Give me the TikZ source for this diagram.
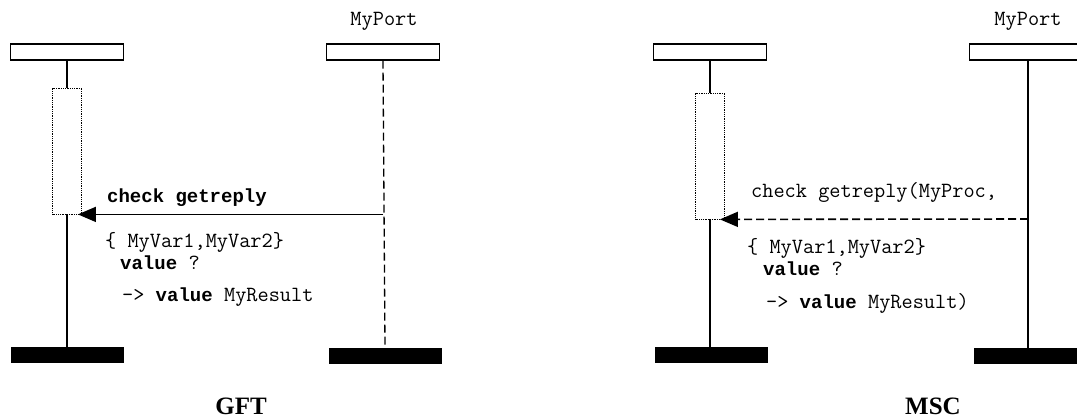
\documentclass[tikz,border=0pt]{standalone}
\usepackage{fontspec}
\setmainfont{Liberation Serif}
\setmonofont{Latin Modern Mono}[
  BoldFont={Liberation Mono Bold},
  BoldFeatures={Scale=0.875}
]
\usetikzlibrary{arrows.meta}
\newcommand{\msgfont}{\ttfamily\fontsize{21.7}{24}\selectfont}
\newcommand{\titlefont}{\rmfamily\bfseries\fontsize{25}{28}\selectfont}
\tikzset{
  insthead/.style={
    draw=black,
    line width=1.4pt,
    minimum width=113pt,
    minimum height=16pt,
    inner sep=0pt
  },
  instend/.style={
    fill=black,
    minimum width=113pt,
    minimum height=16pt,
    inner sep=0pt
  },
  actbox/.style={
    draw=black,
    densely dotted,
    line width=0.8pt,
    minimum width=29pt,
    minimum height=126pt,
    inner sep=0pt
  },
  lifeline/.style={
    draw=black,
    line width=1.3pt
  },
  msgarrow/.style={
    draw=black,
    line width=1.6pt,
    -{Triangle[length=18pt,width=15pt]}
  },
  msgtext/.style={
    font=\msgfont,
    anchor=west,
    inner sep=0pt
  },
  titletext/.style={
    font=\titlefont,
    anchor=base,
    inner sep=0pt
  }
}

\begin{document}
\begin{tikzpicture}[x=1pt,y=-1pt]
  \useasboundingbox (0,0) rectangle (1077,418);

  % GFT: test component and port instances
  \node[insthead] (gftA) at (67,52) {};
  \node[insthead] (gftP) at (383,52) {};
  \node[msgtext,anchor=center] (gftPname) at (384,21) {MyPort};
  \node[actbox] (gftAct) at (67,151) {};
  \node[instend] (gftAend) at (67,355) {};
  \node[instend] (gftPend) at (385,356) {};

  \draw[lifeline] (gftA.south) -- (gftAct.north);
  \draw[lifeline] (gftAct.south) -- (gftAend.north);
  \draw[lifeline,dash pattern=on 8pt off 4pt] (gftP.south) -- (gftPend.north);

  % GFT: reply received on the port
  \coordinate (gftSnd) at (gftP.south |- gftAct.south);
  \coordinate (gftRcv) at ([xshift=-4pt]gftAct.south east);
  \draw[msgarrow] (gftSnd) -- (gftRcv);
  \node[msgtext] (gftMsg) at (107,198) {\bfseries check getreply};
  \node[msgtext] (gftSig) at (105,242) {\{ MyVar1,MyVar2\}};
  \node[msgtext] (gftVal) at (120,263) {\bfseries value \mdseries ?};
  \node[msgtext] (gftRes) at (122,297) {-> \bfseries value \mdseries MyResult};

  \node[titletext] (gftTitle) at (241,414) {GFT};

  % MSC: the same exchange
  \node[insthead] (mscA) at (710,52) {};
  \node[insthead] (mscP) at (1026,52) {};
  \node[msgtext,anchor=center] (mscPname) at (1028,21) {MyPort};
  \node[actbox] (mscAct) at (710,156) {};
  \node[instend] (mscAend) at (711,355) {};
  \node[instend] (mscPend) at (1030,356) {};

  \draw[lifeline] (mscA.south) -- (mscAct.north);
  \draw[lifeline] (mscAct.south) -- (mscAend.north -| mscAct.south);
  \draw[lifeline] (mscA.south -| 1028,0) -- (mscPend.north -| 1028,0);

  \coordinate (mscSnd) at (1028,219);
  \coordinate (mscRcv) at ([xshift=-5pt]mscAct.south east);
  \draw[msgarrow,dash pattern=on 8pt off 4pt] (mscSnd) -- (mscRcv);
  \node[msgtext] (mscMsg) at (751,192) {check getreply(MyProc,};
  \node[msgtext] (mscSig) at (747,248) {\{ MyVar1,MyVar2\}};
  \node[msgtext] (mscVal) at (763,269) {\bfseries value \mdseries ?};
  \node[msgtext] (mscRes) at (766,303) {-> \bfseries value \mdseries MyResult)};

  \node[titletext] (mscTitle) at (933,414) {MSC};

\end{tikzpicture}
\end{document}
